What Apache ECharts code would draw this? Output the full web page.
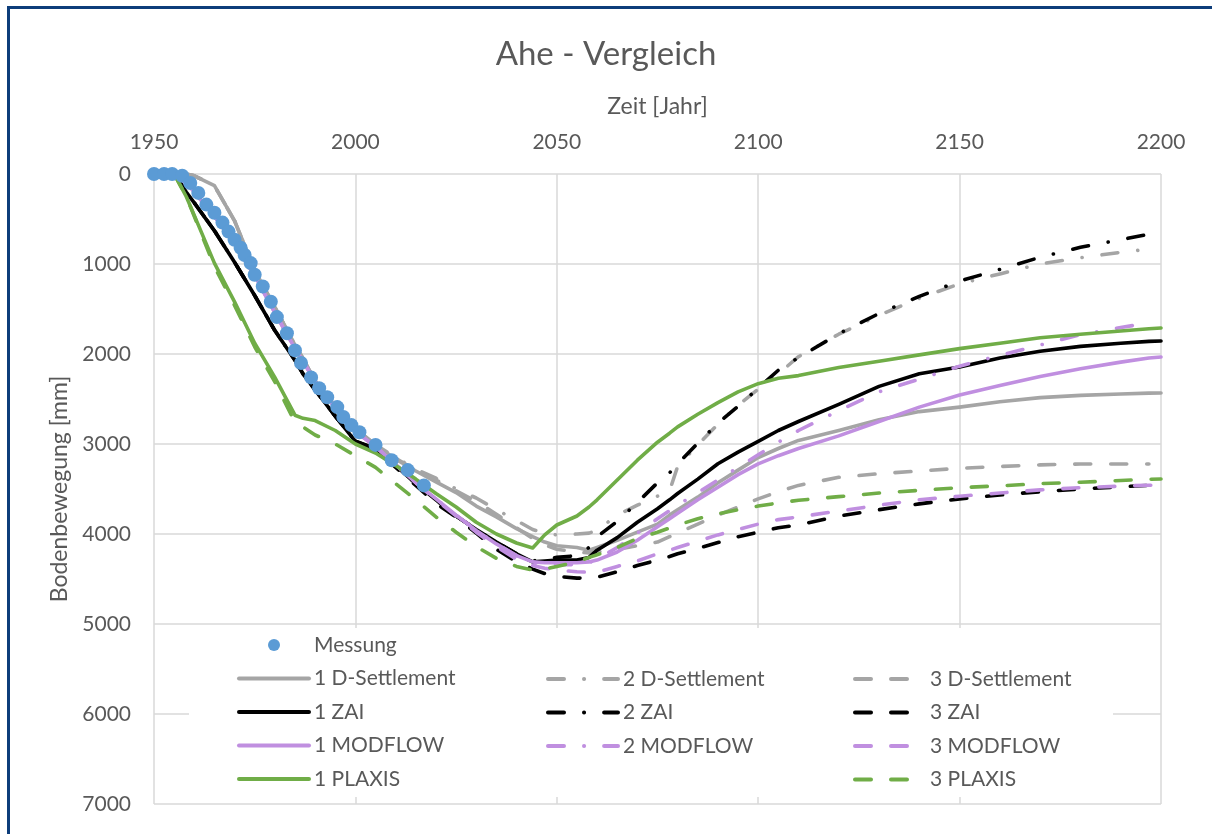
<!DOCTYPE html>
<html><head><meta charset="utf-8">
<script src="https://cdn.jsdelivr.net/npm/echarts@6/dist/echarts.min.js"></script>
<style>html,body{margin:0;padding:0;background:#fff}#c{width:1212px;height:834px}</style>
</head><body><div id="c"></div>
<script>
// ---- data ----
const years = [1950,1955,1958,1960, 1965,1970,1975,1980, 1985,1987,1990,1995, 2000,2005,2010,2015, 2020,2025,2030,2035, 2040,2044,2047,2050, 2055,2058,2060,2065, 2070,2075,2078,2080, 2085,2090,2095,2100, 2105,2110,2120,2130, 2140,2150,2160,2170, 2180,2190,2197,2200];

const dSettlement1 = [null,null,0,20, 130,520,1070,1480, 1900,2050,2300,2580, 2830,3010,3170,3300, 3420,3540,3690,3810, 3940,4030,4090,4130, 4150,4180,4150,4070, 3980,3890,3790,3730, 3590,3430,3290,3150, 3050,2960,2850,2730, 2640,2590,2530,2485, 2460,2445,2435,2433];
const dSettlement2 = [null,null,0,20, 130,520,1070,1480, 1900,2050,2300,2580, 2830,3010,3150,3280, 3380,3500,3600,3730, 3850,3950,3990,4010, 4000,3990,3960,3790, 3680,3580,3520,3250, 3010,2780,2570,2390, 2220,2030,1780,1570, 1380,1220,1110,1000, 930,870,835,null];
const dSettlement3 = [null,null,0,20, 130,520,1070,1480, 1900,2050,2300,2580, 2830,3010,3160,3290, 3400,3520,3640,3780, 3930,4050,4120,4170, 4200,4210,4200,4170, 4130,4090,4030,3990, 3890,3790,3700,3610, 3530,3460,3370,3330, 3300,3270,3250,3232, 3222,3222,3222,null];
const zai1 = [null,0,200,320, 630,980,1350,1740, 2070,2220,2400,2690, 2970,3050,3240,3440, 3620,3800,3950,4090, 4220,4310,4300,4290, 4290,4260,4180,4040, 3870,3720,3620,3550, 3390,3220,3090,2970, 2850,2750,2560,2360, 2220,2144,2044,1970, 1915,1880,1860,1856];
const zai2 = [null,0,200,320, 630,980,1350,1740, 2070,2220,2400,2690, 2970,3050,3240,3440, 3620,3800,3950,4090, 4220,4300,4280,4260, 4240,4150,4030,3860, 3650,3430,3320,3220, 2990,2770,2580,2380, 2180,2040,1775,1550, 1360,1190,1060,925, 815,730,670,656];
const zai3 = [null,0,200,320, 630,980,1350,1740, 2070,2220,2400,2690, 2970,3060,3260,3460, 3660,3811,3990,4170, 4310,4390,4440,4470, 4490,4490,4480,4420, 4350,4290,4250,4220, 4160,4095,4030,3980, 3930,3900,3800,3730, 3665,3610,3567,3530, 3500,3475,3460,3456];
const modflow1 = [null,0,100,200, 470,770,1130,1540, 1940,2080,2310,2600, 2860,3030,3230,3430, 3610,3790,3960,4110, 4240,4310,4320,4320, 4320,4310,4290,4200, 4070,3920,3830,3770, 3620,3480,3340,3220, 3130,3050,2910,2750, 2590,2456,2350,2250, 2165,2090,2045,2033];
const modflow2 = [null,0,100,200, 470,770,1130,1540, 1940,2080,2310,2600, 2860,3030,3230,3430, 3610,3790,3960,4110, 4240,4320,4335,4340, 4340,4320,4280,4150, 3990,3830,3740,3680, 3540,3400,3260,3120, 2980,2850,2630,2420, 2280,2135,2015,1900, 1785,1705,1656,null];
const modflow3 = [null,0,100,200, 470,770,1130,1540, 1940,2080,2310,2600, 2860,3030,3230,3430, 3620,3800,3980,4140, 4280,4350,4380,4400, 4420,4425,4425,4360, 4300,4220,4180,4150, 4080,4010,3950,3890, 3840,3810,3745,3680, 3620,3580,3544,3510, 3485,3468,3458,3456];
const plaxis1 = [null,0,250,460, 990,1420,1880,2260, 2680,2715,2740,2850, 3000,3100,3240,3390, 3550,3700,3870,4000, 4100,4156,4010,3900, 3800,3700,3620,3400, 3180,2980,2880,2810, 2670,2540,2420,2330, 2270,2240,2150,2080, 2010,1940,1880,1820, 1780,1745,1720,1711];
const plaxis3 = [null,0,250,470, 1030,1460,1920,2310, 2760,2810,2900,3000, 3130,3260,3440,3620, 3810,3980,4140,4270, 4360,4400,4390,4360, 4310,4260,4230,4150, 4050,3980,3933,3900, 3830,3775,3730,3690, 3655,3625,3585,3545, 3515,3485,3465,3440, 3425,3405,3392,3389];

const measYears  = [1950,1952.5,1954.5,1957, 1959,1961,1963,1965, 1967,1968.5,1970,1971.5, 1972.5,1974,1975,1977, 1979,1980.5,1983,1985, 1986.5,1989,1991,1993, 1995.5,1997,1999,2001, 2005,2009,2013,2017];
const measValues = [0,0,0,20, 100,210,340,430, 540,640,730,820, 900,990,1120,1250, 1420,1590,1770,1960, 2100,2260,2380,2480, 2590,2700,2790,2870, 3010,3180,3290,3460];

const xTicks = {min:1950, max:2200, step:50};
const yTicks = {min:0, max:7000, step:1000};

// ---- style ----
const FONT = 'Lato';
const TXT = '#595959';
const GRID = '#d9d9d9';
const GRAY='#a5a5a5', BLACK='#000000', PURPLE='#c08fe0', GREEN='#70ad47', BLUE='#5b9bd5';
const DASH=[16,20], DASHDOT=[16,20,0.1,20];

function pairs(vals){ return years.map((y,i)=>[y, vals[i]]); }
function line(name, vals, color, type){
  return {name, type:'line', data:pairs(vals), symbol:'none', connectNulls:true, silent:true,
    lineStyle:{color, width:3.6, type, cap:'round', join:'round'}, itemStyle:{color}, z:2};
}

const series = [
  {name:'Messung', type:'scatter', data:measYears.map((y,i)=>[y,measValues[i]]), symbol:'circle', symbolSize:14,
   itemStyle:{color:BLUE, opacity:1}, z:3, silent:true},
  line('1 D-Settlement', dSettlement1, GRAY, 'solid'),
  line('2 D-Settlement', dSettlement2, GRAY, DASHDOT),
  line('3 D-Settlement', dSettlement3, GRAY, DASH),
  line('1 ZAI', zai1, BLACK, 'solid'),
  line('2 ZAI', zai2, BLACK, DASHDOT),
  line('3 ZAI', zai3, BLACK, DASH),
  line('1 MODFLOW', modflow1, PURPLE, 'solid'),
  line('2 MODFLOW', modflow2, PURPLE, DASHDOT),
  line('3 MODFLOW', modflow3, PURPLE, DASH),
  line('1 PLAXIS', plaxis1, GREEN, 'solid'),
  line('3 PLAXIS', plaxis3, GREEN, DASH),
];

const hideSym = {opacity:0, color:'rgba(0,0,0,0)', borderWidth:0};
function legendCol(names, left, top){
  return {
    orient:'vertical', left, top, padding:0, itemWidth:70, itemHeight:12, itemGap:12.5,
    selectedMode:false,
    textStyle:{color:TXT, fontFamily:FONT, fontSize:21},
    lineStyle:{width:4},
    data:names.map(n => n==='Messung' ? {name:n} : {name:n, itemStyle:hideSym})
  };
}
const plain = v => String(v);

const option = {
  animation:false,
  backgroundColor:'#ffffff',
  title:{text:'Ahe - Vergleich', left:'center', top:33,
    textStyle:{color:TXT, fontFamily:FONT, fontSize:33, fontWeight:'normal'}},
  grid:{left:154, top:174, right:51, bottom:30, show:false},
  xAxis:{type:'value', position:'top', min:xTicks.min, max:xTicks.max, interval:xTicks.step,
    name:'Zeit [Jahr]', nameLocation:'middle', nameGap:56,
    nameTextStyle:{color:TXT, fontFamily:FONT, fontSize:23},
    axisLine:{show:false}, axisTick:{show:false},
    axisLabel:{color:TXT, fontFamily:FONT, fontSize:21, margin:21, formatter:plain},
    splitLine:{show:true, lineStyle:{color:GRID, width:1.5}}},
  yAxis:{type:'value', inverse:true, min:yTicks.min, max:yTicks.max, interval:yTicks.step,
    name:'Bodenbewegung [mm]', nameLocation:'middle', nameGap:80,
    nameTextStyle:{color:TXT, fontFamily:FONT, fontSize:23},
    axisLine:{show:false}, axisTick:{show:false},
    axisLabel:{color:TXT, fontFamily:FONT, fontSize:21, margin:23, formatter:plain},
    splitLine:{show:true, lineStyle:{color:GRID, width:1.5}}},
  legend:[
    legendCol(['Messung','1 D-Settlement','1 ZAI','1 MODFLOW','1 PLAXIS'], 237, 634.5),
    legendCol(['2 D-Settlement','2 ZAI','2 MODFLOW'], 546, 668.5),
    legendCol(['3 D-Settlement','3 ZAI','3 MODFLOW','3 PLAXIS'], 853, 668.5)
  ],
  graphic:[
    {type:'rect', z:1, silent:true, shape:{x:189, y:628, width:924, height:169}, style:{fill:'#ffffff'}},
    {type:'rect', z:100, silent:true, shape:{x:8.5, y:7.5, width:1400, height:1000}, style:{fill:null, stroke:'#0d3d7a', lineWidth:3}}
  ],
  series
};

const chart = echarts.init(document.getElementById('c'), null, {renderer:'canvas'});
chart.setOption(option);
</script>
</body></html>
